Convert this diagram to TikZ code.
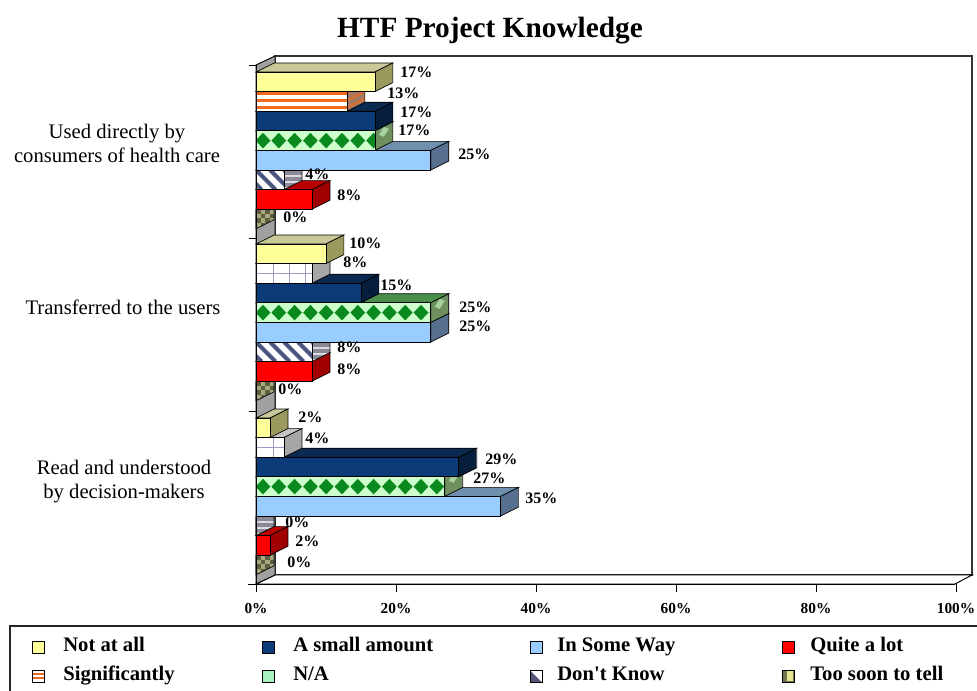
\documentclass[tikz,border=0pt]{standalone}
\usepackage{fontspec}
\setmainfont{Liberation Serif}
\newfontfamily\legendfont{Liberation Serif}[Ligatures=TeXOff]
\usetikzlibrary{calc}

% series colours
\definecolor{nfront}{HTML}{FFFF99}
\definecolor{ntop}{HTML}{C8C898}
\definecolor{nside}{HTML}{9A9A5E}
\definecolor{sorange}{HTML}{F06A1E}
\definecolor{sside}{HTML}{9C7A66}
\definecolor{afront}{HTML}{0B3B78}
\definecolor{atop}{HTML}{0A2A52}
\definecolor{aside}{HTML}{061E3C}
\definecolor{gfront}{HTML}{CCFFCC}
\definecolor{gdia}{HTML}{0A8A1E}
\definecolor{gtop}{HTML}{4A8F4A}
\definecolor{gside}{HTML}{6F8F5F}
\definecolor{bfront}{HTML}{99CCFF}
\definecolor{btop}{HTML}{6F8FAF}
\definecolor{bside}{HTML}{587090}
\definecolor{dstripe}{HTML}{4A5680}
\definecolor{dside}{HTML}{8A8A98}
\definecolor{rfront}{HTML}{FF0000}
\definecolor{rtop}{HTML}{B80000}
\definecolor{rside}{HTML}{A00000}
\definecolor{tlight}{HTML}{A8A87C}
\definecolor{tdark}{HTML}{5E5E40}
\definecolor{gridln}{HTML}{9A9AC8}
\definecolor{wallgray}{HTML}{A0A0A0}
\definecolor{legnotknow}{HTML}{55557A}
\definecolor{legna}{HTML}{A8F0C0}

% one 3-D bar: #1 top of front face, #2 value in percent,
% #3 front-face fill code, #4 top-face colour, #5 side-face fill code
\newcommand\chartbar[5]{%
  \pgfmathsetmacro\ya{#1}%
  \pgfmathsetmacro\yb{#1+19.6}%
  \pgfmathsetmacro\xe{256+6.99*(#2)}%
  \filldraw[fill=#4, draw=black, line width=0.5pt]
    (256,\ya) -- (\xe,\ya) -- (\xe+18,\ya-9) -- (274,\ya-9) -- cycle;
  \begin{scope}
    \clip (\xe,\ya) -- (\xe+18,\ya-9) -- (\xe+18,\yb-9) -- (\xe,\yb) -- cycle;
    #5
  \end{scope}
  \draw[line width=0.5pt] (\xe,\ya) -- (\xe+18,\ya-9) -- (\xe+18,\yb-9) -- (\xe,\yb) -- cycle;
  \ifdim #2pt>0pt
    \begin{scope}
      \clip (256,\ya) rectangle (\xe,\yb);
      #3
    \end{scope}
    \draw[line width=0.5pt] (256,\ya) rectangle (\xe,\yb);
  \fi
}

% face fills
\newcommand\patsolid[1]{\fill[#1] (256,\ya) rectangle (\xe,\yb);}
\newcommand\sidesolid[1]{\fill[#1] (\xe,\ya-9) rectangle (\xe+18,\yb);}
\newcommand\patstripes{%
  \fill[white] (256,\ya) rectangle (\xe,\yb);
  \foreach \k in {0,1,2} \fill[sorange] (256,\ya+7.2*\k) rectangle (\xe,\ya+7.2*\k+3.4);}
\newcommand\sidestripes{%
  \fill[sside] (\xe,\ya-9) rectangle (\xe+18,\yb);
  \foreach \k in {0,1,2} \fill[sorange!60!sside] (\xe,\ya+7.2*\k) -- ++(18,-9) -- ++(0,3.4) -- ++(-18,9) -- cycle;}
\newcommand\patgrid{%
  \fill[white] (256,\ya) rectangle (\xe,\yb);
  \foreach \k in {0,...,6} \draw[gridln, line width=0.6pt] (273+16*\k,\ya) -- (273+16*\k,\yb);
  \draw[gridln, line width=0.6pt] (256,\ya+9.8) -- (\xe,\ya+9.8);}
\newcommand\patdiamonds{%
  \fill[gfront] (256,\ya) rectangle (\xe,\yb);
  \foreach \k in {0,...,17}
    \fill[gdia] (263+15.8*\k-7.4,\ya+9.8) -- (263+15.8*\k,\ya+2) --
                (263+15.8*\k+7.4,\ya+9.8) -- (263+15.8*\k,\yb-2) -- cycle;}
\newcommand\sidediamonds{%
  \fill[gside] (\xe,\ya-9) rectangle (\xe+18,\yb);
  \fill[gfront!60!gside] (\xe+4,\ya+4) -- (\xe+9,\ya-4) -- (\xe+14,\ya-2) -- (\xe+9,\ya+6) -- cycle;}
\newcommand\pathatch{%
  \fill[white] (256,\ya) rectangle (\xe,\yb);
  \foreach \k in {-2,...,7} \draw[dstripe, line width=3pt] (256+14*\k,\ya) -- (256+14*\k+19.6,\yb);}
\newcommand\sidehatch{%
  \fill[dside] (\xe,\ya-9) rectangle (\xe+18,\yb);
  \foreach \k in {-1,...,3} \draw[white!70!dside, line width=1.5pt] (\xe,\ya+6*\k) -- ++(18,0);}
\newcommand\sidecheck{%
  \fill[tlight] (\xe,\ya-9) rectangle (\xe+18,\yb);
  \foreach \j [evaluate=\j as \off using {mod(\j,2)*4.5}] in {0,...,6}
    \foreach \i in {0,1,2} \fill[tdark] (\xe+\off+9*\i,\ya-9+4.5*\j) rectangle ++(4.5,4.5);}

% the eight series
\newcommand\serNot[2]{\chartbar{#1}{#2}{\patsolid{nfront}}{ntop}{\sidesolid{nside}}}
\newcommand\serSig[2]{\chartbar{#1}{#2}{\patstripes}{sside}{\sidestripes}}
\newcommand\serSigGrid[2]{\chartbar{#1}{#2}{\patgrid}{gray!45}{\sidesolid{gray!70}}}
\newcommand\serSmall[2]{\chartbar{#1}{#2}{\patsolid{afront}}{atop}{\sidesolid{aside}}}
\newcommand\serNA[2]{\chartbar{#1}{#2}{\patdiamonds}{gtop}{\sidediamonds}}
\newcommand\serSome[2]{\chartbar{#1}{#2}{\patsolid{bfront}}{btop}{\sidesolid{bside}}}
\newcommand\serDK[2]{\chartbar{#1}{#2}{\pathatch}{dside}{\sidehatch}}
\newcommand\serQuite[2]{\chartbar{#1}{#2}{\patsolid{rfront}}{rtop}{\sidesolid{rside}}}
\newcommand\serSoon[2]{\chartbar{#1}{#2}{\patsolid{tlight}}{tlight}{\sidecheck}}

\begin{document}
\begin{tikzpicture}[x=0.75pt, y=-0.75pt,
  valuelbl/.style={font=\fontsize{12}{13}\selectfont\bfseries, inner sep=0pt,
                   anchor=west, text height=1.5ex, text depth=0pt},
  ticklbl/.style={font=\fontsize{11.5}{12}\selectfont\bfseries, inner sep=0pt},
  catlbl/.style={font=\fontsize{15.5}{18}\selectfont, inner sep=0pt, align=center},
  leglbl/.style={font=\legendfont\fontsize{15.5}{17}\selectfont\bfseries, inner sep=0pt,
                 anchor=west, text height=1.5ex, text depth=0pt},
  legicon/.style={draw=black, line width=0.7pt, minimum size=9pt, inner sep=0pt},
  frame/.style={draw=black, line width=0.7pt}]
\useasboundingbox (0,0) rectangle (977,690);
\fill[white] (0,0) rectangle (977,690);

% title
\node[font=\fontsize{22}{25}\selectfont\bfseries] (title) at (490,31) {HTF Project Knowledge};

% walls and floor
\filldraw[fill=white, draw=black!80, line width=1pt] (275,56) rectangle (972,575);
\filldraw[fill=white, frame] (256,584) -- (275,575) -- (972,575) -- (955,584) -- cycle;
\filldraw[fill=wallgray, frame] (256,65) -- (275,56) -- (275,575) -- (256,584) -- cycle;

% bars, drawn from the bottom up
\serSoon{555.2}{0}
\serQuite{535.6}{2}
\serDK{516.0}{0}
\serSome{496.4}{35}
\serNA{476.8}{27}
\serSmall{457.2}{29}
\serSigGrid{437.6}{4}
\serNot{418.0}{2}

\serSoon{381.2}{0}
\serQuite{361.6}{8}
\serDK{342.0}{8}
\serSome{322.4}{25}
\serNA{302.8}{25}
\serSmall{283.2}{15}
\serSigGrid{263.6}{8}
\serNot{244.0}{10}

\serSoon{209.2}{0}
\serQuite{189.6}{8}
\serDK{170.0}{4}
\serSome{150.4}{25}
\serNA{130.8}{17}
\serSmall{111.2}{17}
\serSig{91.6}{13}
\serNot{72.0}{17}

% value labels
\node[valuelbl] (v11) at (400,73) {17\%};
\node[valuelbl] (v12) at (387,94) {13\%};
\node[valuelbl] (v13) at (400,113) {17\%};
\node[valuelbl] (v14) at (398,131) {17\%};
\node[valuelbl] (v15) at (458,155) {25\%};
\node[valuelbl] (v16) at (305,175) {4\%};
\node[valuelbl] (v17) at (337,196) {8\%};
\node[valuelbl] (v18) at (283,218) {0\%};

\node[valuelbl] (v21) at (349,244) {10\%};
\node[valuelbl] (v22) at (343,263) {8\%};
\node[valuelbl] (v23) at (380,286) {15\%};
\node[valuelbl] (v24) at (459,308) {25\%};
\node[valuelbl] (v25) at (459,327) {25\%};
\node[valuelbl] (v26) at (337,348) {8\%};
\node[valuelbl] (v27) at (337,370) {8\%};
\node[valuelbl] (v28) at (278,390) {0\%};

\node[valuelbl] (v31) at (298,418) {2\%};
\node[valuelbl] (v32) at (305,439) {4\%};
\node[valuelbl] (v33) at (485,460) {29\%};
\node[valuelbl] (v34) at (473,479) {27\%};
\node[valuelbl] (v35) at (525,499) {35\%};
\node[valuelbl] (v36) at (285,523) {0\%};
\node[valuelbl] (v37) at (295,542) {2\%};
\node[valuelbl] (v38) at (287,563) {0\%};

% axes and ticks
\draw[frame] (248,584) -- (955,584);
\draw[frame] (256,65) -- (256,592);
\foreach \t/\y in {0/65,1/238,2/411,3/584}
  \draw[frame] (249,\y) -- (256,\y);
\foreach \k/\lbl in {0/0,1/20,2/40,3/60,4/80,5/100} {
  \draw[frame] (256+140*\k,584) -- (256+140*\k,592);
  \node[ticklbl] (tick\k) at (256+140*\k,608) {\lbl\%};
}

% category labels
\node[catlbl] (cat1) at (117,143) {Used directly by\\consumers of health care};
\node[catlbl] (cat2) at (123,307) {Transferred to the users};
\node[catlbl] (cat3) at (124,482) {Read and understood\\by decision-makers};

% legend
\draw[black!85, line width=1.3pt] (10,700) -- (10,626) -- (990,626);

\node[legicon, fill=nfront] (li1) at (38,647) {};
\node[leglbl] (lt1) at (63,647) {Not at all};
\node[legicon, fill=afront] (li2) at (268,647) {};
\node[leglbl] (lt2) at (293,647) {A small amount};
\node[legicon, fill=bfront] (li3) at (536,647) {};
\node[leglbl] (lt3) at (557,647) {In Some Way};
\node[legicon, fill=rfront] (li4) at (788,647) {};
\node[leglbl] (lt4) at (810,647) {Quite a lot};

\node[legicon, fill=white, path picture={
  \fill[sorange] ([yshift=-2.2pt]path picture bounding box.north west) rectangle
                 ([yshift=-4pt]path picture bounding box.north east);
  \fill[sorange] ([yshift=2.2pt]path picture bounding box.south west) rectangle
                 ([yshift=4pt]path picture bounding box.south east);}] (li5) at (38,676) {};
\node[leglbl] (lt5) at (63,676) {Significantly};
\node[legicon, fill=legna] (li6) at (268,676) {};
\node[leglbl] (lt6) at (293,676) {N/A};
\node[legicon, fill=legnotknow, path picture={
  \fill[white] (path picture bounding box.north west) -- (path picture bounding box.north east)
    -- (path picture bounding box.south east) -- cycle;}] (li7) at (536,676) {};
\node[leglbl] (lt7) at (557,676) {Don't Know};
\node[legicon, fill=tdark!70!tlight, path picture={
  \fill[nfront!70!tlight] ([xshift=-1pt]path picture bounding box.north) rectangle
    ([xshift=-1pt,yshift=1pt]path picture bounding box.south east);}] (li8) at (788,676) {};
\node[leglbl] (lt8) at (810,676) {Too soon to tell};
\end{tikzpicture}
\end{document}
